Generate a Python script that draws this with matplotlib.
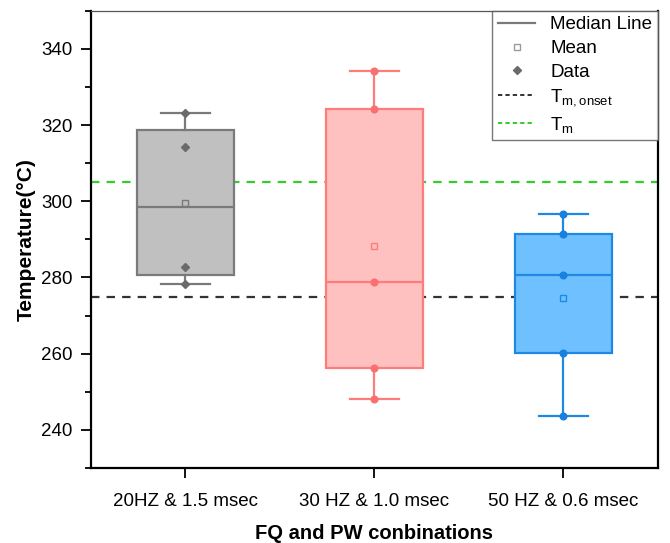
import numpy as np
import matplotlib
matplotlib.use("Agg")
import matplotlib.pyplot as plt
from matplotlib.lines import Line2D
from matplotlib.ticker import MultipleLocator

plt.rcParams['font.family'] = ['Liberation Sans', 'DejaVu Sans']
plt.rcParams['mathtext.default'] = 'regular'

categories = ["20HZ & 1.5 msec", "30 HZ & 1.0 msec", "50 HZ & 0.6 msec"]
data_20hz = [323.2, 314.2, 282.8, 278.3]
data_30hz = [334.2, 324.3, 278.8, 256.3, 248.0]
data_50hz = [296.6, 291.3, 280.7, 260.3, 243.7]
groups = [data_20hz, data_30hz, data_50hz]
tm_onset = 275.0
tm = 305.0

face_colors = ['#c0c0c0', '#ffc0c0', '#6ec0ff']
edge_colors = ['#7a7a7a', '#ff7c7c', '#1e88e5']
point_colors = ['#6a6a6a', '#f87070', '#1a80e0']
point_markers = ['D', 'o', 'o']
point_sizes = [4.5, 4.8, 4.8]

fig = plt.figure(figsize=(6.70, 5.43), dpi=100)
ax = fig.add_axes([0.1354, 0.1381, 0.9821 - 0.1354, 0.9803 - 0.1381])

ax.axhline(tm_onset, color='#333333', lw=1.6, dashes=(3.8, 3.2), zorder=1)
ax.axhline(tm, color='#33cc33', lw=1.6, dashes=(3.8, 3.2), zorder=1)

for i, (vals, fc, ec, pc, mk, ms) in enumerate(zip(groups, face_colors, edge_colors,
                                                   point_colors, point_markers, point_sizes)):
    v = np.asarray(vals)
    st = {
        'med': np.median(v),
        'q1': np.percentile(v, 25, method='midpoint'),
        'q3': np.percentile(v, 75, method='midpoint'),
        'whislo': v.min(),
        'whishi': v.max(),
        'mean': v.mean(),
        'fliers': [],
    }
    pos = i + 1
    ax.bxp([st], positions=[pos], widths=0.515, capwidths=0.26, patch_artist=True,
           showmeans=True, showfliers=False,
           boxprops=dict(facecolor=fc, edgecolor=ec, lw=1.6),
           whiskerprops=dict(color=ec, lw=1.6),
           capprops=dict(color=ec, lw=1.6),
           medianprops=dict(color=ec, lw=1.6),
           meanprops=dict(marker='s', markerfacecolor='none', markeredgecolor=ec,
                          markersize=5, markeredgewidth=1.0),
           zorder=2)
    ax.plot(np.full(len(v), pos), v, linestyle='none', marker=mk, color=pc,
            markersize=ms, zorder=3)

ax.set_xlim(0.5, 3.5)
ax.set_ylim(230, 350)
ax.set_xticks([1, 2, 3])
ax.set_xticklabels(categories, fontsize=13.5)
ax.yaxis.set_major_locator(MultipleLocator(20))
ax.yaxis.set_minor_locator(MultipleLocator(10))
ax.set_yticks(np.arange(240, 341, 20))
ax.tick_params(axis='y', which='major', direction='out', length=7, width=1.3,
               labelsize=13.5, pad=6)
ax.tick_params(axis='y', which='minor', direction='out', length=4, width=1.3)
ax.tick_params(axis='x', which='major', direction='out', length=7, width=1.3, pad=11)
ax.tick_params(axis='x', which='minor', bottom=False)

for s in ['left', 'bottom', 'right']:
    ax.spines[s].set_linewidth(1.6)
    ax.spines[s].set_color('black')
ax.spines['top'].set_linewidth(0.9)
ax.spines['top'].set_color('#555555')

ax.set_ylabel('Temperature(°C)', fontsize=15, fontweight='bold', labelpad=4)
ax.set_xlabel('FQ and PW conbinations', fontsize=14.5, fontweight='bold', labelpad=10)

handles = [
    Line2D([], [], color='#7a7a7a', lw=1.6),
    Line2D([], [], linestyle='none', marker='s', markerfacecolor='none',
           markeredgecolor='#9a9a9a', markersize=4.5, markeredgewidth=1.0),
    Line2D([], [], linestyle='none', marker='D', color='#6a6a6a', markersize=4.5),
    Line2D([], [], color='#333333', lw=1.4, dashes=(2.2, 1.6)),
    Line2D([], [], color='#33cc33', lw=1.4, dashes=(2.2, 1.6)),
]
labels = ['Median Line', 'Mean', 'Data', r'T$_{m,onset}$', r'T$_{m}$']
leg = ax.legend(handles, labels, loc='upper right', bbox_to_anchor=(1.0, 1.0),
                borderaxespad=0, fontsize=13.5, frameon=True, fancybox=False,
                handlelength=2.0, handletextpad=0.8, labelspacing=0.35,
                borderpad=0.3)
leg.get_frame().set_edgecolor('#555555')
leg.get_frame().set_linewidth(1.0)

fig.savefig('out.png', dpi=100)
